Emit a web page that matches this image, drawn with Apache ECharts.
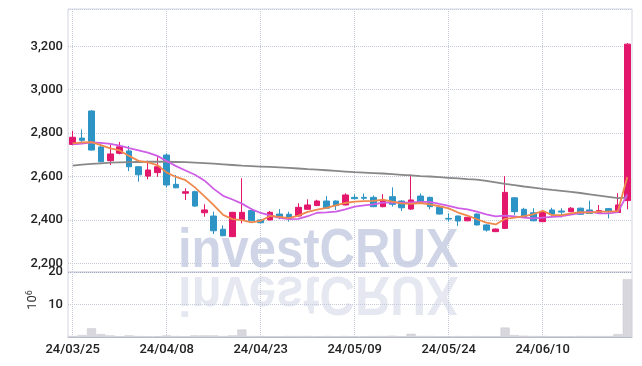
<!DOCTYPE html>
<html><head><meta charset="utf-8">
<script src="https://cdn.jsdelivr.net/npm/echarts@6/dist/echarts.min.js"></script>
<style>html,body{margin:0;padding:0;background:#fff}#c{width:642px;height:366px}</style>
</head><body><div id="c"></div>
<script>
const dates = ['24/03/25','24/03/26','24/03/27','24/03/28','24/03/29','24/04/01','24/04/02','24/04/03','24/04/04','24/04/05',
'24/04/08','24/04/09','24/04/11','24/04/12','24/04/15','24/04/16','24/04/17','24/04/18','24/04/19','24/04/22',
'24/04/23','24/04/24','24/04/25','24/04/26','24/04/29','24/04/30','24/05/02','24/05/03','24/05/07','24/05/08',
'24/05/09','24/05/10','24/05/13','24/05/14','24/05/16','24/05/17','24/05/20','24/05/21','24/05/22','24/05/23',
'24/05/24','24/05/27','24/05/28','24/05/29','24/05/30','24/05/31','24/06/03','24/06/04','24/06/05','24/06/07',
'24/06/10','24/06/11','24/06/12','24/06/13','24/06/14','24/06/17','24/06/18','24/06/19','24/06/20','24/06/21'];
const openP = [2748,2777,2902,2736,2673,2707,2718,2645,2602,2618,2699,2564,2523,2530,2433,2418,2357,2323,2400,2443,2400,2400,2427,2426,2418,2449,2466,2487,2487,2469,2504,2504,2504,2461,2507,2487,2450,2510,2504,2458,2407,2418,2396,2427,2377,2346,2361,2502,2449,2433,2392,2446,2441,2438,2454,2446,2434,2452,2434,2489];
const closeP = [2781,2767,2722,2668,2704,2737,2645,2608,2630,2645,2561,2548,2530,2464,2446,2350,2327,2435,2435,2396,2387,2435,2415,2407,2458,2469,2487,2454,2466,2515,2498,2500,2461,2489,2472,2456,2492,2481,2461,2427,2404,2395,2412,2377,2353,2358,2527,2438,2412,2396,2438,2426,2436,2454,2426,2430,2443,2438,2469,3210];
const lowP = [2745,2753,2720,2665,2653,2702,2625,2576,2587,2599,2550,2546,2492,2460,2415,2335,2325,2321,2384,2394,2384,2398,2403,2392,2415,2447,2464,2452,2446,2467,2494,2492,2459,2458,2461,2441,2446,2478,2449,2425,2392,2372,2394,2374,2346,2344,2358,2423,2410,2394,2390,2412,2412,2436,2424,2428,2432,2407,2432,2449];
const highP = [2811,2817,2906,2753,2748,2759,2741,2648,2673,2689,2707,2607,2546,2535,2472,2438,2375,2437,2592,2454,2403,2441,2450,2438,2477,2495,2493,2510,2490,2523,2518,2522,2513,2519,2550,2490,2610,2522,2507,2460,2430,2420,2414,2430,2380,2360,2602,2505,2456,2454,2442,2456,2454,2459,2457,2489,2469,2455,2523,3215];
const ma5 = [2753,2757,2758,2745,2730,2720,2695,2672,2665,2653,2618,2598,2583,2550,2510,2468,2423,2404,2399,2389,2396,2418,2414,2408,2420,2437,2447,2455,2467,2478,2484,2487,2488,2493,2484,2476,2474,2478,2472,2463,2453,2434,2420,2403,2388,2379,2405,2411,2418,2426,2442,2422,2422,2430,2436,2434,2438,2438,2441,2598];
const ma10 = [2748,2752,2757,2755,2750,2742,2731,2721,2710,2695,2671,2648,2628,2608,2582,2543,2511,2494,2475,2450,2432,2421,2409,2404,2405,2417,2433,2435,2438,2449,2461,2467,2472,2480,2481,2480,2481,2483,2483,2474,2465,2454,2449,2438,2426,2416,2420,2416,2411,2407,2411,2414,2417,2424,2431,2438,2430,2430,2436,2517];
const maLong = [2650,2655,2658,2661,2664,2665,2666,2667,2668,2668,2668,2667,2666,2664,2662,2659,2656,2653,2650,2648,2646,2644,2642,2640,2637,2634,2632,2629,2626,2623,2620,2618,2616,2614,2611,2608,2605,2602,2600,2597,2594,2591,2588,2586,2580,2573,2566,2560,2554,2549,2543,2538,2534,2529,2524,2518,2512,2506,2500,2503];
const volume = [0.3,0.6,2.7,0.9,0.5,0.2,0.5,0.3,0.2,0.2,0.5,0.3,0.2,0.5,0.5,0.5,0.3,0.5,2.3,0.3,0.3,0.2,0.2,0.3,0.3,0.3,0.2,0.3,0.2,0.3,0.2,0.2,0.3,0.3,0.4,0.2,1.0,0.3,0.3,0.2,0.2,0.3,0.2,0.3,0.2,0.2,2.9,0.6,0.4,0.3,0.3,0.2,0.2,0.2,0.3,0.3,0.3,0.3,0.9,17.8];

const UP = '#e3176c', DOWN = '#2e94c6';
const gridLine = {show: true, lineStyle: {color: '#c6cbdc', type: 'dotted', width: 1}};
const labelFont = {fontFamily: 'Roboto', fontSize: 13, fontWeight: 500, color: '#222'};

const chart = echarts.init(document.getElementById('c'), null, {renderer: 'canvas'});
chart.setOption({
  animation: false,
  grid: [
    {left: 68, right: 10, top: 9, height: 263, show: true, borderColor: '#d2d6e2', borderWidth: 1},
    {left: 68, right: 10, top: 272, height: 65, show: true, borderColor: '#d2d6e2', borderWidth: 1}
  ],
  xAxis: [
    {type: 'category', gridIndex: 0, data: dates, boundaryGap: true,
     axisLine: {show: false}, axisTick: {show: false}, axisLabel: {show: false},
     splitLine: Object.assign({interval: 9, alignWithLabel: true}, gridLine)},
    {type: 'category', gridIndex: 1, data: dates, boundaryGap: true,
     axisLine: {show: true, lineStyle: {color: '#b8bcc8'}}, axisTick: {show: false},
     axisLabel: Object.assign({interval: 9, margin: 6}, labelFont),
     splitLine: Object.assign({interval: 9, alignWithLabel: true}, gridLine)}
  ],
  yAxis: [
    {type: 'value', gridIndex: 0, min: 2160, max: 3372, scale: true,
     axisLine: {show: false}, axisTick: {show: false},
     axisLabel: Object.assign({showMinLabel: false, showMaxLabel: false, margin: 5,
       formatter: v => v.toLocaleString('en-US')}, labelFont),
     splitLine: gridLine},
    {type: 'value', gridIndex: 1, min: 0, max: 20, interval: 10,
     axisLine: {show: false}, axisTick: {show: false},
     axisLabel: Object.assign({showMinLabel: false, margin: 5}, labelFont),
     splitLine: {show: true, lineStyle: {color: ['#c6cbdc', '#c6cbdc', '#a6abc0'], type: 'dotted'}}}
  ],
  graphic: [
    {type: 'text', x: 178, y: 252, scaleX: 0.875, z: -10, silent: true,
     style: {text: 'investCRUX', font: 'bold 56px "Liberation Sans"', fill: '#cfd5e6',
       textAlign: 'left', textVerticalAlign: 'middle'}},
    {type: 'text', x: 178, y: 292, scaleX: 0.875, scaleY: -1, z: -10, silent: true,
     style: {text: 'investCRUX', font: 'bold 56px "Liberation Sans"', fill: '#e5e8f0',
       textAlign: 'left', textVerticalAlign: 'middle'}},
    {type: 'text', x: 33, y: 300, rotation: Math.PI / 2, silent: true,
     style: {text: '10{s|6}', rich: {s: {fontSize: 9, verticalAlign: 'top', padding: [0, 0, 6, 0], fontFamily: 'Roboto', fill: '#333'}},
       font: '13px Roboto', fill: '#333', textAlign: 'center', textVerticalAlign: 'middle'}}
  ],
  series: [
    {type: 'candlestick', xAxisIndex: 0, yAxisIndex: 0, barWidth: '66%',
     data: dates.map((d, i) => [openP[i], closeP[i], lowP[i], highP[i]]),
     itemStyle: {color: UP, color0: DOWN, borderColor: UP, borderColor0: DOWN, borderWidth: 1}},
    {type: 'line', name: 'MA60', xAxisIndex: 0, yAxisIndex: 0, data: maLong, symbol: 'none',
     lineStyle: {color: '#888888', width: 1.8}, z: 3},
    {type: 'line', name: 'MA10', xAxisIndex: 0, yAxisIndex: 0, data: ma10, symbol: 'none',
     lineStyle: {color: '#cf5ee6', width: 1.8}, z: 3},
    {type: 'line', name: 'MA5', xAxisIndex: 0, yAxisIndex: 0, data: ma5, symbol: 'none',
     lineStyle: {color: '#f08a4c', width: 1.8}, z: 4},
    {type: 'bar', xAxisIndex: 1, yAxisIndex: 1, data: volume, barCategoryGap: '3%',
     itemStyle: {color: '#d7d7dd', borderColor: '#c8c8d0', borderWidth: 0.5}}
  ]
});
</script></body></html>
